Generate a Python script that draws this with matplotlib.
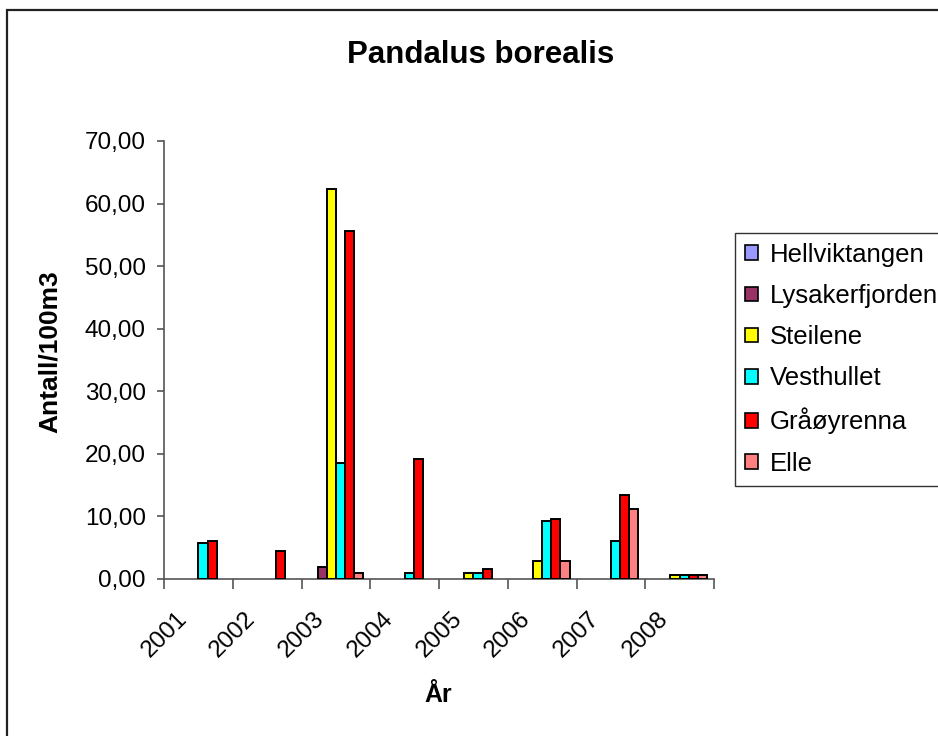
import numpy as np
import matplotlib
matplotlib.use("Agg")
import matplotlib.pyplot as plt
from matplotlib.patches import Patch, Rectangle
from matplotlib.ticker import FuncFormatter, MultipleLocator, FixedLocator

plt.rcParams['font.family'] = ['Liberation Sans', 'DejaVu Sans']

years = ["2001", "2002", "2003", "2004", "2005", "2006", "2007", "2008"]
series_names = ["Hellviktangen", "Lysakerfjorden", "Steilene", "Vesthullet", "Gråøyrenna", "Elle"]
hellviktangen = [0, 0, 0, 0, 0, 0, 0, 0]
lysakerfjorden = [0, 0, 1.9, 0, 0, 0, 0, 0]
steilene = [0, 0, 62.3, 0, 0.95, 2.9, 0, 0.65]
vesthullet = [5.8, 0, 18.5, 0.9, 0.95, 9.3, 6.1, 0.65]
graaoyrenna = [6.0, 4.5, 55.6, 19.2, 1.6, 9.6, 13.4, 0.65]
elle = [0, 0, 1.0, 0, 0, 2.9, 11.2, 0.65]
colors = ["#9999FF", "#993366", "#FFFF00", "#00FFFF", "#FF0000", "#FF8080"]

data = [hellviktangen, lysakerfjorden, steilene, vesthullet, graaoyrenna, elle]

W, H = 938, 736
fig = plt.figure(figsize=(W / 100, H / 100), dpi=100)
ax = fig.add_axes([164 / W, 1 - 579 / H, (714 - 164) / W, (579 - 141) / H])

n = len(series_names)
bw = 1.0 / (n + 1.5)
x = np.arange(len(years))
for j, (vals, c) in enumerate(zip(data, colors)):
    vals = np.array(vals, dtype=float)
    mask = vals > 0
    ax.bar(x[mask] + (j - (n - 1) / 2) * bw, vals[mask], width=bw, color=c,
           edgecolor="black", linewidth=1.4, zorder=3)

ax.set_xlim(-0.5, len(years) - 0.5)
ax.set_ylim(0, 70)
ax.yaxis.set_major_locator(MultipleLocator(10))
ax.yaxis.set_major_formatter(FuncFormatter(lambda v, p: f"{v:.2f}".replace(".", ",")))
ax.xaxis.set_major_locator(FixedLocator(np.arange(-0.5, len(years), 1.0)))
ax.set_xticklabels([])
for s in ["top", "right"]:
    ax.spines[s].set_visible(False)
for s in ["left", "bottom"]:
    ax.spines[s].set_color("#555555")
    ax.spines[s].set_linewidth(1.2)
ax.tick_params(axis="y", direction="out", length=5, width=1.2, color="#555555",
               labelsize=17.5, pad=8)
ax.tick_params(axis="x", direction="out", length=7, width=1.2, color="#555555")

# rotated category labels
for i, yr in enumerate(years):
    ax.annotate(yr, xy=(i, 0), xycoords=("data", "axes fraction"),
                xytext=(-15, -36), textcoords="offset pixels",
                rotation=45, ha="right", va="center", rotation_mode="anchor",
                fontsize=17.5)

fig.text(481 / W, 1 - 55 / H, "Pandalus borealis", ha="center", va="center",
         fontsize=22.5, fontweight="bold")
fig.text(50 / W, 1 - 352 / H, "Antall/100m3", ha="center", va="center",
         rotation=90, fontsize=19, fontweight="bold")
fig.text(438 / W, 1 - 695 / H, "År", ha="center", va="center",
         fontsize=18, fontweight="bold")

handles = [Patch(facecolor=c, edgecolor="black", linewidth=1.2) for c in colors]
leg = fig.legend(handles, series_names, loc="upper left",
                 bbox_to_anchor=(735 / W, 1 - 485 / H, 260 / W, (485 - 232.5) / H),
                 mode="expand", fontsize=18.5, frameon=True, fancybox=False,
                 edgecolor="black", handlelength=0.5, handleheight=0.5,
                 handletextpad=0.45, labelspacing=0.67, borderpad=0.4,
                 borderaxespad=0)
leg.get_frame().set_linewidth(1.0)

fig.patches.append(Rectangle((7 / W, -0.1), 1.2, 1.1 - 10 / H, transform=fig.transFigure,
                             fill=False, edgecolor="#222222", linewidth=1.6))

fig.savefig("out.png", dpi=100)
